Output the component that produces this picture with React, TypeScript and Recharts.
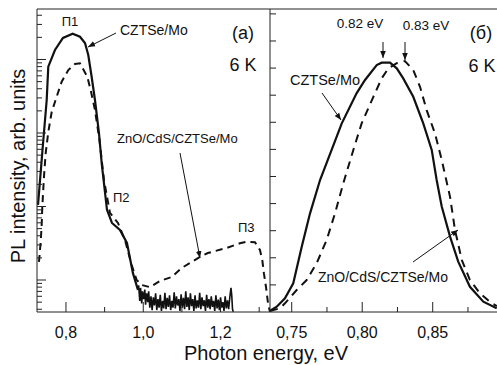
import React from "react";
import { LineChart, Line, XAxis, YAxis } from "recharts";

// ---------- data (panel a: log intensity, panel б: linear intensity) ----------
const leftSolid: [number, number][] = [
  [0.7276, 10.5], [0.7392, 58.7], [0.7501, 281], [0.7542, 798], [0.7715, 1347],
  [0.7922, 1962], [0.8173, 2244], [0.8362, 2042], [0.8492, 1675], [0.8577, 1151],
  [0.8665, 578], [0.875, 281], [0.8854, 100], [0.8924, 39], [0.9061, 9.0],
  [0.919, 5.97], [0.9397, 4.79], [0.9578, 3.19], [0.9733, 1.24], [0.9863, 0.73],
];
const leftNoise: [number, number][] = [
  [0.988, 0.85], [0.991, 0.52], [0.993, 0.78], [0.996, 0.48], [0.998, 0.7], [1.001, 0.55],
  [1.004, 0.74], [1.006, 0.46], [1.009, 0.66], [1.012, 0.5], [1.014, 0.7], [1.017, 0.42],
  [1.02, 0.6], [1.023, 0.39], [1.026, 0.58], [1.029, 0.45], [1.032, 0.66], [1.035, 0.39],
  [1.038, 0.55], [1.041, 0.42], [1.044, 0.63], [1.047, 0.38], [1.05, 0.52], [1.053, 0.41],
  [1.056, 0.67], [1.059, 0.4], [1.062, 0.57], [1.065, 0.43], [1.068, 0.62], [1.071, 0.39],
  [1.074, 0.52], [1.077, 0.42], [1.08, 0.68], [1.083, 0.41], [1.086, 0.6], [1.089, 0.45],
  [1.092, 0.55], [1.095, 0.38], [1.098, 0.64], [1.101, 0.42], [1.104, 0.57], [1.107, 0.4],
  [1.11, 0.7], [1.113, 0.43], [1.116, 0.58], [1.119, 0.39], [1.122, 0.66], [1.125, 0.44],
  [1.128, 0.55], [1.131, 0.38], [1.134, 0.62], [1.137, 0.41], [1.14, 0.53], [1.143, 0.42],
  [1.146, 0.67], [1.149, 0.4], [1.152, 0.58], [1.155, 0.44], [1.158, 0.53], [1.161, 0.38],
  [1.164, 0.63], [1.167, 0.42], [1.17, 0.55], [1.173, 0.4], [1.176, 0.6], [1.179, 0.43],
  [1.182, 0.52], [1.185, 0.38], [1.188, 0.62], [1.191, 0.41], [1.194, 0.54], [1.197, 0.39],
  [1.2, 0.58], [1.203, 0.42], [1.206, 0.5], [1.209, 0.38], [1.212, 0.6], [1.215, 0.41],
  [1.218, 0.53], [1.221, 0.4], [1.224, 0.58], [1.227, 0.78], [1.229, 0.62], [1.231, 0.4],
  [1.233, 0.37],
];
const leftDashed: [number, number][] = [
  [0.7301, 1.76], [0.7345, 3.29], [0.7371, 5.6], [0.7387, 9.8], [0.743, 25.2], [0.7475, 53.4],
  [0.7542, 103], [0.763, 193], [0.7759, 312], [0.7889, 499], [0.806, 719], [0.8233, 869],
  [0.8362, 888], [0.8551, 583], [0.8639, 384], [0.875, 206], [0.8867, 80], [0.8983, 23],
  [0.9138, 8.2], [0.9345, 5.97], [0.9527, 3.5], [0.97, 1.6], [0.9829, 1.0], [0.9959, 0.855],
  [1.0173, 0.8], [1.0432, 0.97], [1.0735, 1.1], [1.0994, 1.46], [1.1208, 1.7], [1.1467, 2.06],
  [1.1674, 2.33], [1.2158, 2.73], [1.2502, 3.16], [1.2675, 3.32], [1.289, 3.26], [1.302, 2.56],
  [1.308, 1.87], [1.3123, 1.23], [1.3175, 0.81], [1.3235, 0.457], [1.328, 0.37],
];
const rightSolid: [number, number][] = [
  [0.7346, 0.004], [0.7394, 0.0196], [0.7452, 0.0506], [0.7511, 0.106], [0.7571, 0.241],
  [0.763, 0.364], [0.7701, 0.487], [0.7855, 0.696], [0.796, 0.807], [0.802, 0.856],
  [0.8103, 0.911], [0.8138, 0.92], [0.8197, 0.92], [0.8245, 0.899], [0.8291, 0.862],
  [0.8362, 0.794], [0.8433, 0.696], [0.8493, 0.598], [0.8528, 0.487], [0.8564, 0.389],
  [0.8623, 0.278], [0.8681, 0.186], [0.8764, 0.093], [0.8859, 0.038], [0.8954, 0.0137],
];
const rightDashed: [number, number][] = [
  [0.7346, 0.004], [0.7417, 0.0137], [0.7452, 0.032], [0.7535, 0.081], [0.7606, 0.118],
  [0.7677, 0.18], [0.7748, 0.266], [0.7807, 0.364], [0.7866, 0.475], [0.7937, 0.598],
  [0.7996, 0.696], [0.8079, 0.794], [0.8138, 0.862], [0.8185, 0.899], [0.8245, 0.918],
  [0.8303, 0.926], [0.8362, 0.893], [0.841, 0.831], [0.8457, 0.745], [0.8516, 0.659],
  [0.8564, 0.561], [0.8623, 0.425], [0.8658, 0.303], [0.8706, 0.192], [0.8764, 0.118],
  [0.8835, 0.069], [0.8918, 0.032], [0.8956, 0.022],
];

const leftXTicks = [0.8, 0.9, 1.0, 1.1, 1.2, 1.3];
const leftXLabels: Record<string, string> = { "0.8": "0,8", "1": "1,0", "1.2": "1,2" };
const rightXTicks = [0.75, 0.775, 0.8, 0.825, 0.85, 0.875];
const rightXLabels: Record<string, string> = { "0.75": "0,75", "0.8": "0,80", "0.85": "0,85" };
const leftYTicks = [
  0.4, 0.5, 0.6, 0.7, 0.8, 0.9, 1, 2, 3, 4, 5, 6, 7, 8, 9, 10, 20, 30, 40, 50, 60, 70, 80, 90,
  100, 200, 300, 400, 500, 600, 700, 800, 900, 1000, 2000, 3000, 4000,
];
const leftYMajor = [1, 10, 100, 1000];
const rightYTicks = [0.1, 0.2, 0.3, 0.4, 0.5, 0.6, 0.7, 0.8, 0.9, 1.0, 1.1];

const toRows = (pts: [number, number][]) => pts.map(([e, v]) => ({ e, v }));

const FONT = "'Liberation Sans', Arial, sans-serif";
const INK = "#111";
const AX = "#222";

const makeXTick = (labels: Record<string, string>) => (props: any) => {
  const { x, y, payload } = props;
  const key = String(Math.round(payload.value * 1000) / 1000);
  const lab = labels[key];
  return (
    <g>
      <line x1={x} x2={x} y1={y} y2={y - (lab ? 10 : 5)} stroke={AX} strokeWidth={1} />
      {lab && (
        <text x={x} y={y + 26} textAnchor="middle" fontSize={16} fontFamily={FONT} fill={INK}>
          {lab}
        </text>
      )}
    </g>
  );
};

const LogYTick = (props: any) => {
  const { x, y, payload } = props;
  const major = leftYMajor.includes(payload.value);
  return <line x1={x} x2={x + (major ? 9 : 5)} y1={y} y2={y} stroke={AX} strokeWidth={1} />;
};
const LinYTick = (props: any) => {
  const { x, y } = props;
  return <line x1={x} x2={x + 6} y1={y} y2={y} stroke={AX} strokeWidth={1} />;
};

export default function App() {
  return (
    <div style={{ position: "absolute", left: 0, top: 0, width: 497, height: 365, overflow: "hidden", background: "#fff", fontFamily: FONT }}>
      <div style={{ position: "absolute", left: 0, top: 0 }}>
        <LineChart width={497} height={365} margin={{ top: 8, left: 36, right: 227, bottom: 23 }}>
          <XAxis
            dataKey="e" type="number" domain={[0.725, 1.328]} allowDataOverflow ticks={leftXTicks}
            interval={0} height={30} tickSize={0} tickMargin={0} tickLine={false}
            axisLine={{ stroke: AX, strokeWidth: 1 }} tick={makeXTick(leftXLabels)}
          />
          <XAxis
            xAxisId="top" orientation="top" dataKey="e" type="number" domain={[0.725, 1.328]}
            height={1} tick={false} tickLine={false} axisLine={{ stroke: AX, strokeWidth: 1 }}
          />
          <YAxis
            dataKey="v" type="number" scale="log" domain={[0.367, 4864]} allowDataOverflow
            ticks={leftYTicks} interval={0} width={1} tickSize={0} tickMargin={0} tickLine={false}
            axisLine={{ stroke: AX, strokeWidth: 1 }} tick={LogYTick}
          />
          <Line data={toRows(leftSolid)} dataKey="v" stroke={INK} strokeWidth={2.2} dot={false} isAnimationActive={false} />
          <Line data={toRows(leftNoise)} dataKey="v" stroke={INK} strokeWidth={1.6} dot={false} isAnimationActive={false} />
          <Line data={toRows(leftDashed)} dataKey="v" stroke={INK} strokeWidth={2} strokeDasharray="7 5" dot={false} isAnimationActive={false} />
        </LineChart>
      </div>
      <div style={{ position: "absolute", left: 0, top: 0 }}>
        <LineChart width={497} height={365} margin={{ top: 8, left: 269, right: 0, bottom: 23 }}>
          <XAxis
            dataKey="e" type="number" domain={[0.7346, 0.8956]} allowDataOverflow ticks={rightXTicks}
            interval={0} height={30} tickSize={0} tickMargin={0} tickLine={false}
            axisLine={{ stroke: AX, strokeWidth: 1 }} tick={makeXTick(rightXLabels)}
          />
          <XAxis
            xAxisId="top" orientation="top" dataKey="e" type="number" domain={[0.7346, 0.8956]}
            height={1} tick={false} tickLine={false} axisLine={{ stroke: AX, strokeWidth: 1 }}
          />
          <YAxis
            dataKey="v" type="number" domain={[0, 1.118]} allowDataOverflow ticks={rightYTicks}
            interval={0} width={1} tickSize={0} tickMargin={0} tickLine={false}
            axisLine={{ stroke: AX, strokeWidth: 1 }} tick={LinYTick}
          />
          <Line data={toRows(rightSolid)} dataKey="v" stroke={INK} strokeWidth={2.2} dot={false} isAnimationActive={false} />
          <Line data={toRows(rightDashed)} dataKey="v" stroke={INK} strokeWidth={2} strokeDasharray="8 6" dot={false} isAnimationActive={false} />
        </LineChart>
      </div>
      <svg width={497} height={365} style={{ position: "absolute", left: 0, top: 0, pointerEvents: "none" }} fontFamily={FONT}>
        <defs>
          <marker id="ah" viewBox="0 0 10 10" refX="10" refY="5" markerWidth="7" markerHeight="7" markerUnits="userSpaceOnUse" orient="auto">
            <path d="M0,1 L10,5 L0,9 z" fill={INK} />
          </marker>
        </defs>
        <g fill={INK}>
          <text x={70} y={26} fontSize={13} textAnchor="middle">П1</text>
          <text x={120} y={35} fontSize={14}>CZTSe/Mo</text>
          <line x1={116} y1={33} x2={88} y2={47} stroke={INK} strokeWidth={1} markerEnd="url(#ah)" />
          <text x={243} y={39} fontSize={18} textAnchor="middle">(a)</text>
          <text x={243} y={71} fontSize={18} textAnchor="middle">6 K</text>
          <text x={117} y={143} fontSize={13}>ZnO/CdS/CZTSe/Mo</text>
          <line x1={180} y1={153} x2={200} y2={258} stroke={INK} strokeWidth={1} markerEnd="url(#ah)" />
          <text x={113} y={202} fontSize={13}>П2</text>
          <text x={238} y={232} fontSize={13}>П3</text>
          <text x={360} y={28} fontSize={13.5} textAnchor="middle">0.82 eV</text>
          <text x={426} y={30} fontSize={13.5} textAnchor="middle">0.83 eV</text>
          <line x1={383} y1={42} x2={383} y2={58} stroke={INK} strokeWidth={1} markerEnd="url(#ah)" />
          <line x1={405} y1={42} x2={405} y2={60} stroke={INK} strokeWidth={1} markerEnd="url(#ah)" />
          <text x={481} y={39} fontSize={18} textAnchor="middle">(б)</text>
          <text x={482} y={72} fontSize={18} textAnchor="middle">6 K</text>
          <text x={290} y={85} fontSize={14.5}>CZTSe/Mo</text>
          <line x1={322} y1={93} x2={341} y2={120} stroke={INK} strokeWidth={1} markerEnd="url(#ah)" />
          <text x={318} y={282} fontSize={14}>ZnO/CdS/CZTSe/Mo</text>
          <line x1={413} y1={262} x2={458} y2={230} stroke={INK} strokeWidth={1} markerEnd="url(#ah)" />
          <text x={266} y={360} fontSize={20} textAnchor="middle">Photon energy, eV</text>
          <text x={25} y={166} fontSize={20} textAnchor="middle" transform="rotate(-90 25 166)">PL intensity, arb. units</text>
        </g>
      </svg>
    </div>
  );
}
